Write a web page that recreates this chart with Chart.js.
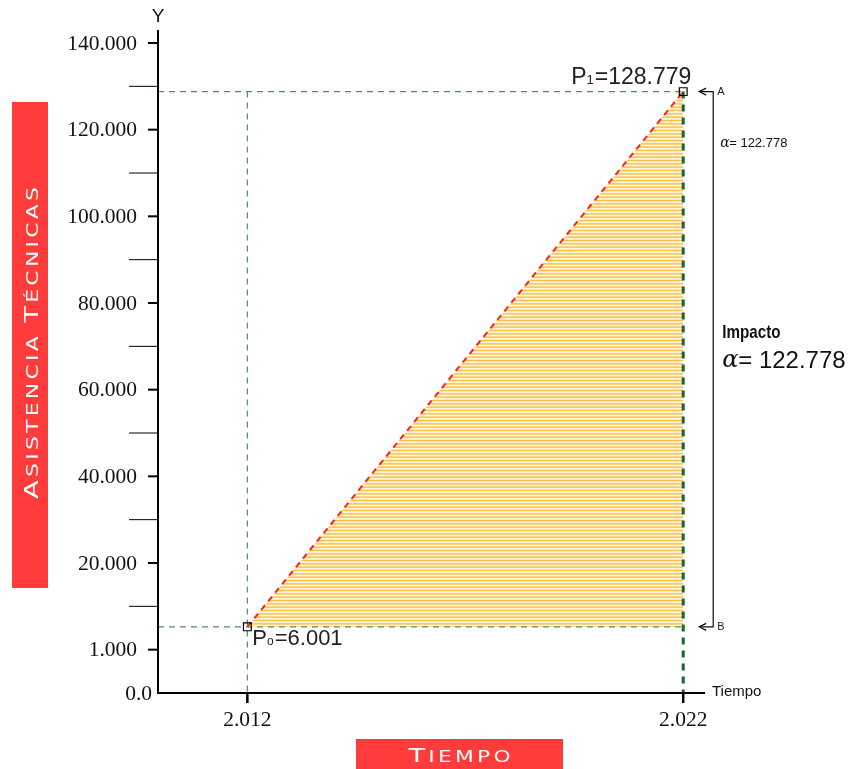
<!DOCTYPE html>
<html>
<head>
<meta charset="utf-8">
<script src="https://cdn.jsdelivr.net/npm/chart.js@4.4.1/dist/chart.umd.min.js"></script>
<style>
  html, body { margin: 0; padding: 0; background: #fff; }
  #grafico { display: block; }
</style>
</head>
<body>
<canvas id="grafico" width="851" height="769"></canvas>
<script>
// datos (asistencias en miles)
var anios = [2012, 2022];
var asistencias = [6.001, 128.779];
var impacto = 122.778;
var etiquetasP = ['6.001', '128.779'];
var yTickValores = [0, 1, 20, 40, 60, 80, 100, 120, 140];
var yTickEtiquetas = ['0.0', '1.000', '20.000', '40.000', '60.000', '80.000', '100.000', '120.000', '140.000'];
var xTickEtiquetas = ['2.012', '2.022'];

// eje Y cortado: 0-1 medio paso, 1-20 un paso, luego lineal
function escalaY(v) {
    if (v <= 1) return v * 10;
    if (v <= 20) return 10 + (v - 1) * 20 / 19;
    return v + 10;
}

var xMin = 2009.95, xMax = 2022.5;
var y0 = escalaY(asistencias[0]);
var y1 = escalaY(asistencias[1]);

function rayado() {
    var c = document.createElement('canvas');
    c.width = 8; c.height = 10;
    var g = c.getContext('2d');
    g.fillStyle = 'rgba(255,218,150,0.85)';
    g.fillRect(0, 0, 8, 10);
    g.fillStyle = '#fff';
    g.fillRect(0, 1.7, 8, 0.9);
    g.fillRect(0, 5.0, 8, 0.9);
    g.fillRect(0, 8.4, 8, 0.9);
    g.fillStyle = 'rgba(255,188,55,0.95)';
    g.fillRect(0, 0, 8, 1);
    g.fillRect(0, 3.3, 8, 1);
    g.fillRect(0, 6.7, 8, 1);
    return g.createPattern(c, 'repeat');
}

function texto(ctx, s, x, y, font, color, align, base) {
    ctx.font = font;
    ctx.fillStyle = color || '#111';
    ctx.textAlign = align || 'left';
    ctx.textBaseline = base || 'middle';
    ctx.fillText(s, x, y);
}

// P + subindice + valor
function etiquetaP(ctx, sub, valor, x, y, size) {
    ctx.textBaseline = 'alphabetic';
    ctx.textAlign = 'left';
    ctx.fillStyle = '#222';
    ctx.font = size + 'px "Liberation Sans"';
    ctx.fillText('P', x, y);
    var w = ctx.measureText('P').width;
    ctx.font = Math.round(size * 0.55) + 'px "Liberation Sans"';
    ctx.fillText(sub, x + w, y);
    w += ctx.measureText(sub).width + 1;
    ctx.font = size + 'px "Liberation Sans"';
    ctx.fillText('=' + valor, x + w, y);
}

// versalitas estiradas hasta el ancho pedido, centradas en (0,0)
function versalitas(ctx, s, size, ancho, color) {
    var partes = [];
    var palabraNueva = true;
    for (var i = 0; i < s.length; i++) {
        var ch = s[i];
        if (ch === ' ') { partes.push({ c: ' ', f: size * 0.8 }); palabraNueva = true; continue; }
        partes.push({ c: ch.toUpperCase(), f: palabraNueva ? size : size * 0.8 });
        palabraNueva = false;
    }
    var esp = size * 0.12;
    var total = 0;
    partes.forEach(function (p) {
        ctx.font = p.f + 'px "DejaVu Sans"';
        p.w = ctx.measureText(p.c).width;
        total += p.w + esp;
    });
    total -= esp;
    ctx.save();
    ctx.scale(ancho / total, 1);
    var x = -total / 2;
    ctx.fillStyle = color;
    ctx.textBaseline = 'alphabetic';
    ctx.textAlign = 'left';
    partes.forEach(function (p) {
        ctx.font = p.f + 'px "DejaVu Sans"';
        ctx.fillText(p.c, x, size * 0.36);
        x += p.w + esp;
    });
    ctx.restore();
}

var dibujoEjes = {
    id: 'dibujoEjes',
    afterDraw: function (chart) {
        var ctx = chart.ctx;
        var a = chart.chartArea;
        var sx = chart.scales.x, sy = chart.scales.y;
        ctx.save();

        // ejes
        ctx.strokeStyle = '#000';
        ctx.lineWidth = 2;
        ctx.beginPath();
        ctx.moveTo(a.left, a.top);
        ctx.lineTo(a.left, a.bottom);
        ctx.lineTo(a.right, a.bottom);
        ctx.stroke();

        // ticks Y
        var disp = yTickValores.map(escalaY);
        for (var i = 0; i < disp.length; i++) {
            var py = sy.getPixelForValue(disp[i]);
            if (i > 0) {
                ctx.lineWidth = 2;
                ctx.beginPath(); ctx.moveTo(a.left - 10, py); ctx.lineTo(a.left, py); ctx.stroke();
            }
            texto(ctx, yTickEtiquetas[i], i === 0 ? a.left - 6 : a.left - 21, py + 1, '21.5px "Liberation Serif"', '#111', 'right');
            if (i > 0 && i < disp.length - 1) {
                var pm = sy.getPixelForValue((disp[i] + disp[i + 1]) / 2);
                ctx.lineWidth = 1;
                ctx.beginPath(); ctx.moveTo(a.left - 29, pm); ctx.lineTo(a.left, pm); ctx.stroke();
            }
        }

        // ticks X
        for (var j = 0; j < anios.length; j++) {
            var px = sx.getPixelForValue(anios[j]);
            ctx.lineWidth = 2.5;
            ctx.beginPath(); ctx.moveTo(px, a.bottom); ctx.lineTo(px, a.bottom + 10); ctx.stroke();
            texto(ctx, xTickEtiquetas[j], px, a.bottom + 27, '21.5px "Liberation Serif"', '#111', 'center');
        }

        texto(ctx, 'Y', a.left, a.top - 13, '19px "Liberation Sans"', '#111', 'center');
        texto(ctx, 'Tiempo', a.right + 7, a.bottom - 1, '15px "Liberation Sans"', '#111', 'left');

        // etiquetas de los puntos
        var p0x = sx.getPixelForValue(anios[0]), p0y = sy.getPixelForValue(y0);
        var p1x = sx.getPixelForValue(anios[1]), p1y = sy.getPixelForValue(y1);
        etiquetaP(ctx, 'o', etiquetasP[0], p0x + 5, p0y + 18, 22);
        etiquetaP(ctx, '1', etiquetasP[1], p1x - 112, p1y - 8, 23);

        // corchete A-B
        var bx = p1x + 30;
        ctx.strokeStyle = '#111';
        ctx.lineWidth = 1.2;
        ctx.beginPath();
        ctx.moveTo(p1x + 17, p1y); ctx.lineTo(bx, p1y); ctx.lineTo(bx, p0y); ctx.lineTo(p1x + 17, p0y);
        ctx.stroke();
        [p1y, p0y].forEach(function (yy) {
            ctx.beginPath();
            ctx.moveTo(p1x + 23, yy - 3.5); ctx.lineTo(p1x + 16, yy); ctx.lineTo(p1x + 23, yy + 3.5);
            ctx.stroke();
        });
        texto(ctx, 'A', bx + 4, p1y, '11px "Liberation Sans"', '#222', 'left');
        texto(ctx, 'B', bx + 4, p0y, '11px "Liberation Sans"', '#222', 'left');

        var alfa = impacto.toFixed(3);
        texto(ctx, 'α', bx + 7, p1y + 52, 'italic 14px "DejaVu Serif"', '#111', 'left');
        texto(ctx, '= ' + alfa, bx + 16, p1y + 52, '13px "Liberation Sans"', '#111', 'left');

        var ym = (p0y + p1y) / 2;
        ctx.save();
        ctx.translate(bx + 9, ym - 26);
        ctx.scale(0.8, 1);
        texto(ctx, 'Impacto', 0, 0, 'bold 19px "Liberation Sans"', '#111', 'left');
        ctx.restore();
        texto(ctx, 'α', bx + 9, ym + 2, 'italic 24px "DejaVu Serif"', '#111', 'left');
        texto(ctx, '= ' + alfa, bx + 25, ym + 2, '24px "Liberation Sans"', '#111', 'left');

        // cajas de titulos
        ctx.fillStyle = '#ff3b3b';
        ctx.fillRect(12, 102, 36, 486);
        ctx.fillRect(356, 739, 207, 30);
        ctx.save();
        ctx.translate(31, 343);
        ctx.rotate(-Math.PI / 2);
        versalitas(ctx, 'Asistencia Técnicas', 19, 312, '#fff');
        ctx.restore();
        ctx.save();
        ctx.translate(459.5, 755);
        versalitas(ctx, 'Tiempo', 20, 102, '#fff');
        ctx.restore();

        ctx.restore();
    }
};

var grafico = new Chart(document.getElementById('grafico'), {
    type: 'line',
    data: {
        datasets: [
            {
                label: 'puntos',
                data: [{ x: anios[0], y: y0 }, { x: anios[1], y: y1 }],
                showLine: false,
                pointStyle: 'rect',
                pointRadius: 5.5,
                pointBorderColor: '#000',
                pointBackgroundColor: 'rgba(0,0,0,0)',
                pointBorderWidth: 1.2,
                order: 0
            },
            {
                label: 'crecimiento',
                data: [{ x: anios[0], y: y0 }, { x: anios[1], y: y1 }],
                borderColor: '#ff1f1f',
                borderWidth: 2,
                borderDash: [6, 5],
                pointRadius: 0,
                fill: { value: y0 },
                backgroundColor: 'rgba(255,200,100,0.6)',
                order: 1
            },
            {
                label: 'vertical 2022',
                data: [{ x: anios[1], y: y1 }, { x: anios[1], y: 0 }],
                borderColor: '#17662f',
                borderWidth: 3,
                borderDash: [7, 6],
                pointRadius: 0,
                fill: false,
                order: 2
            },
            {
                label: 'vertical 2012',
                data: [{ x: anios[0], y: y1 }, { x: anios[0], y: 0 }],
                borderColor: '#4f8f63',
                borderWidth: 1.2,
                borderDash: [6, 5],
                pointRadius: 0,
                fill: false,
                order: 3
            },
            {
                label: 'nivel P1',
                data: [{ x: xMin, y: y1 }, { x: anios[1], y: y1 }],
                borderColor: '#4f8f63',
                borderWidth: 1.2,
                borderDash: [6, 5],
                pointRadius: 0,
                fill: false,
                order: 3
            },
            {
                label: 'nivel P0',
                data: [{ x: xMin, y: y0 }, { x: anios[1], y: y0 }],
                borderColor: '#4f8f63',
                borderWidth: 1.2,
                borderDash: [6, 5],
                pointRadius: 0,
                fill: false,
                order: 3
            }
        ]
    },
    options: {
        responsive: false,
        animation: false,
        elements: { line: { tension: 0 } },
        layout: { padding: { left: 158, right: 146, top: 30, bottom: 76 } },
        plugins: {
            legend: { display: false },
            tooltip: { enabled: false },
            filler: { drawTime: 'beforeDatasetsDraw' }
        },
        scales: {
            x: { type: 'linear', min: xMin, max: xMax, display: false },
            y: { type: 'linear', min: 0, max: 153, display: false }
        }
    },
    plugins: [dibujoEjes]
});
grafico.data.datasets[1].backgroundColor = rayado();
grafico.update();
</script>
</body>
</html>
